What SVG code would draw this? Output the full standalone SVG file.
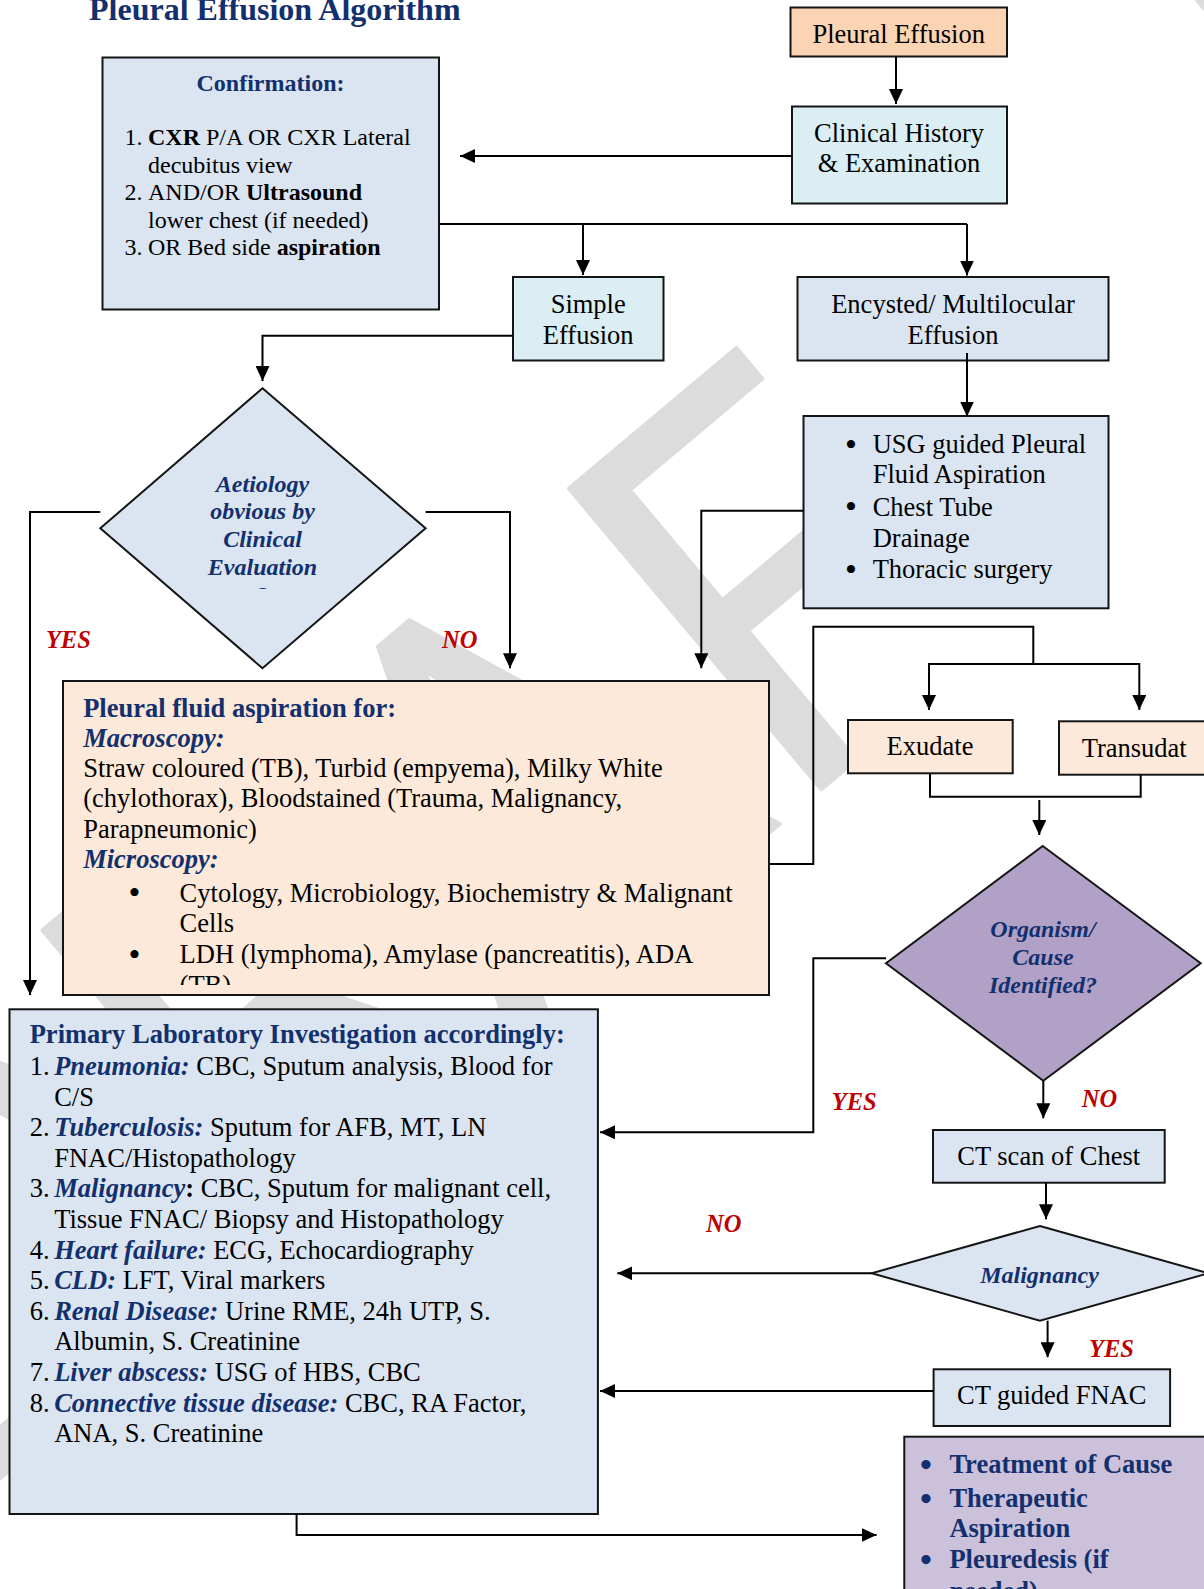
<svg xmlns="http://www.w3.org/2000/svg" width="1204" height="1589" viewBox="0 0 1204 1589">
<style>
.box{stroke:#151515;stroke-width:2}
.blue{fill:#dbe5f1}.cyan{fill:#daeef3}.peach{fill:#fbd4b4}.lpeach{fill:#fde9d9}.purple{fill:#b2a1c7}.lav{fill:#ccc1da}
text{font-family:"Liberation Serif","Times New Roman",serif;font-size:26.5px;fill:#000}
.c{text-anchor:middle}
.s24{font-size:24px}
.b{font-weight:bold}
.nv{fill:#13306e}
.bi{font-weight:bold;font-style:italic;fill:#13306e}
.red{font-weight:bold;font-style:italic;fill:#c00000;font-size:24.5px}
.bul{font-size:34px}
.ln{fill:none;stroke:#000;stroke-width:2}
.wm{font-family:"Open Sans",sans-serif;font-size:550px;fill:#dcdcdc;stroke:#dcdcdc;stroke-width:4;stroke-linejoin:round}
</style>
<defs>
<marker id="ah" viewBox="0 0 15 14" refX="15" refY="7" markerWidth="15" markerHeight="14" markerUnits="userSpaceOnUse" orient="auto">
<path d="M0,0 L15,7 L0,14 z" fill="#000"/>
</marker>
<clipPath id="clipD"><rect x="0" y="380" width="500" height="209"/></clipPath>
<clipPath id="clipP"><rect x="60" y="680" width="710" height="305"/></clipPath>
</defs>

<g id="watermark">
<text class="wm" transform="translate(-52,1522) rotate(-40)">DRAF<tspan dx="560">T</tspan></text>
</g>

<text class="b nv" x="89" y="20" style="font-size:32px">Pleural Effusion Algorithm</text>

<g id="pleural-effusion">
<rect class="box peach" x="790.5" y="7.5" width="216.5" height="49"/>
<text class="c" x="898.7" y="42.7">Pleural Effusion</text>
</g>

<g id="clinical-history">
<rect class="box cyan" x="792" y="106.5" width="215" height="97"/>
<text class="c" x="899" y="141.7">Clinical History</text>
<text class="c" x="899" y="171.7">&amp; Examination</text>
</g>

<g id="confirmation">
<rect class="box blue" x="102.5" y="57.5" width="336.5" height="252"/>
<text class="c s24 b nv" x="270.5" y="90.7">Confirmation:</text>
<text class="s24" x="124.4" y="145">1.</text>
<text class="s24" x="148" y="145"><tspan class="b">CXR</tspan> P/A OR CXR Lateral</text>
<text class="s24" x="148" y="172.5">decubitus view</text>
<text class="s24" x="124.4" y="200">2.</text>
<text class="s24" x="148" y="200">AND/OR <tspan class="b">Ultrasound</tspan></text>
<text class="s24" x="148" y="227.5">lower chest (if needed)</text>
<text class="s24" x="124.4" y="255">3.</text>
<text class="s24" x="148" y="255">OR Bed side <tspan class="b">aspiration</tspan></text>
</g>

<g id="simple-effusion">
<rect class="box cyan" x="513" y="277" width="150.5" height="83.5"/>
<text class="c" x="588.2" y="313">Simple</text>
<text class="c" x="588.2" y="343.5">Effusion</text>
</g>

<g id="encysted-effusion">
<rect class="box blue" x="797.5" y="277" width="311" height="83.5"/>
<text class="c" x="953" y="313">Encysted/ Multilocular</text>
<text class="c" x="953" y="343.5">Effusion</text>
</g>

<g id="aetiology-decision">
<polygon class="box blue" points="262.5,388.3 425.6,528.3 262.5,668.3 100.3,528.3"/>
<g clip-path="url(#clipD)">
<text class="c bi s24" x="262.5" y="491.7">Aetiology</text>
<text class="c bi s24" x="262.5" y="519.3">obvious by</text>
<text class="c bi s24" x="262.5" y="546.7">Clinical</text>
<text class="c bi s24" x="262.5" y="575">Evaluation</text>
<text class="c bi s24" x="262.5" y="602.5">?</text>
</g>
</g>

<g id="usg-management">
<rect class="box blue" x="803.5" y="416" width="305" height="192.3"/>
<text class="bul" x="845" y="455.5">•</text>
<text x="872.7" y="453.3">USG guided Pleural</text>
<text x="872.7" y="483.3">Fluid Aspiration</text>
<text class="bul" x="845" y="517.5">•</text>
<text x="872.7" y="515.5">Chest Tube</text>
<text x="872.7" y="546.5">Drainage</text>
<text class="bul" x="845" y="580.5">•</text>
<text x="872.7" y="578.3">Thoracic surgery</text>
</g>

<g id="pleural-fluid-aspiration">
<rect class="box lpeach" x="63" y="681" width="706" height="314"/>
<g clip-path="url(#clipP)">
<text class="b nv" x="83.2" y="716.7">Pleural fluid aspiration for:</text>
<text class="bi" x="83.2" y="747.3">Macroscopy:</text>
<text x="83.2" y="776.7">Straw coloured (TB), Turbid (empyema), Milky White</text>
<text x="83.2" y="807.3">(chylothorax), Bloodstained (Trauma, Malignancy,</text>
<text x="83.2" y="838.3">Parapneumonic)</text>
<text class="bi" x="83.2" y="868.3">Microscopy:</text>
<text class="bul" x="128.5" y="904">•</text>
<text x="179.6" y="901.7">Cytology, Microbiology, Biochemistry &amp; Malignant</text>
<text x="179.6" y="931.7">Cells</text>
<text class="bul" x="128.5" y="965.5">•</text>
<text x="179.6" y="963.3">LDH (lymphoma), Amylase (pancreatitis), ADA</text>
<text x="179.6" y="994">(TB)</text>
</g>
</g>

<g id="exudate">
<rect class="box lpeach" x="848" y="720" width="164.7" height="53.3"/>
<text class="c" x="930" y="755">Exudate</text>
</g>

<g id="transudate">
<rect class="box lpeach" x="1059" y="721.3" width="160" height="53.4"/>
<text x="1081.7" y="756.7">Transudat</text>
</g>

<g id="organism-decision">
<polygon class="box purple" points="1042.7,846 1200.7,963.3 1043.3,1080.7 886,963.3"/>
<text class="c bi s24" x="1043" y="937.3">Organism/</text>
<text class="c bi s24" x="1043" y="965">Cause</text>
<text class="c bi s24" x="1043" y="992.7">Identified?</text>
</g>

<g id="primary-investigation">
<rect class="box blue" x="9.5" y="1009.3" width="588.4" height="504.7"/>
<text class="b nv" x="29.7" y="1043.3">Primary Laboratory Investigation accordingly:</text>
<text x="29.7" y="1075">1.</text>
<text x="54.2" y="1075"><tspan class="bi">Pneumonia:</tspan> CBC, Sputum analysis, Blood for</text>
<text x="54.2" y="1105.6">C/S</text>
<text x="29.7" y="1136.2">2.</text>
<text x="54.2" y="1136.2"><tspan class="bi">Tuberculosis:</tspan> Sputum for AFB, MT, LN</text>
<text x="54.2" y="1166.8">FNAC/Histopathology</text>
<text x="29.7" y="1197.4">3.</text>
<text x="54.2" y="1197.4"><tspan class="bi">Malignancy</tspan><tspan class="b">:</tspan> CBC, Sputum for malignant cell,</text>
<text x="54.2" y="1228">Tissue FNAC/ Biopsy and Histopathology</text>
<text x="29.7" y="1258.6">4.</text>
<text x="54.2" y="1258.6"><tspan class="bi">Heart failure:</tspan> ECG, Echocardiography</text>
<text x="29.7" y="1289.2">5.</text>
<text x="54.2" y="1289.2"><tspan class="bi">CLD:</tspan> LFT, Viral markers</text>
<text x="29.7" y="1319.8">6.</text>
<text x="54.2" y="1319.8"><tspan class="bi">Renal Disease:</tspan> Urine RME, 24h UTP, S.</text>
<text x="54.2" y="1350.4">Albumin, S. Creatinine</text>
<text x="29.7" y="1381">7.</text>
<text x="54.2" y="1381"><tspan class="bi">Liver abscess:</tspan> USG of HBS, CBC</text>
<text x="29.7" y="1411.6">8.</text>
<text x="54.2" y="1411.6"><tspan class="bi">Connective tissue disease:</tspan> CBC, RA Factor,</text>
<text x="54.2" y="1442.2">ANA, S. Creatinine</text>
</g>

<g id="ct-scan">
<rect class="box blue" x="933" y="1130" width="231.7" height="52.7"/>
<text class="c" x="1048.7" y="1165">CT scan of Chest</text>
</g>

<g id="malignancy-decision">
<polygon class="box blue" points="1039.9,1226 1208.4,1273.3 1039.9,1320.7 871.6,1273.3"/>
<text class="c bi s24" x="1039.5" y="1283.3">Malignancy</text>
</g>

<g id="ct-fnac">
<rect class="box blue" x="933.6" y="1369.3" width="236.5" height="56.7"/>
<text class="c" x="1051.7" y="1404">CT guided FNAC</text>
</g>

<g id="treatment">
<rect class="box lav" x="904.3" y="1436.7" width="320" height="180"/>
<text class="b nv bul" x="920" y="1476">•</text>
<text class="b nv" x="949.4" y="1473.3">Treatment of Cause</text>
<text class="b nv bul" x="920" y="1509.5">•</text>
<text class="b nv" x="949.4" y="1506.7">Therapeutic</text>
<text class="b nv" x="949.4" y="1536.7">Aspiration</text>
<text class="b nv bul" x="920" y="1571">•</text>
<text class="b nv" x="949.4" y="1568.3">Pleuredesis (if</text>
<text class="b nv" x="949.4" y="1600">needed)</text>
</g>

<g id="labels">
<text class="red" x="45.9" y="648.3">YES</text>
<text class="red" x="442" y="648">NO</text>
<text class="red" x="831.7" y="1110">YES</text>
<text class="red" x="1081.7" y="1106.7">NO</text>
<text class="red" x="706" y="1231.7">NO</text>
<text class="red" x="1089" y="1356.7">YES</text>
</g>

<g id="connectors">
<path class="ln" marker-end="url(#ah)" d="M896,56.7 V104"/>
<path class="ln" marker-end="url(#ah)" d="M792,156 H460"/>
<path class="ln" d="M439,224 H967"/>
<path class="ln" marker-end="url(#ah)" d="M583,224 V275"/>
<path class="ln" marker-end="url(#ah)" d="M967,224 V275.5"/>
<path class="ln" marker-end="url(#ah)" d="M513,335.7 H262.5 V381"/>
<path class="ln" marker-end="url(#ah)" d="M967,353 V416.5"/>
<path class="ln" marker-end="url(#ah)" d="M100.3,512 H30 V995"/>
<path class="ln" marker-end="url(#ah)" d="M425.6,512 H510 V668.3"/>
<path class="ln" marker-end="url(#ah)" d="M803.5,510.7 H701.3 V668.3"/>
<path class="ln" d="M769,864 H813.3 V626.7 H1033.3 V664"/>
<path class="ln" d="M929,664 H1139.3"/>
<path class="ln" marker-end="url(#ah)" d="M929,663 V710"/>
<path class="ln" marker-end="url(#ah)" d="M1139.3,663 V710"/>
<path class="ln" d="M930,773.3 V796.7 H1140.7 V774.7"/>
<path class="ln" marker-end="url(#ah)" d="M1039.3,800 V835"/>
<path class="ln" marker-end="url(#ah)" d="M886,958.3 H813.3 V1132.3 H600"/>
<path class="ln" marker-end="url(#ah)" d="M1043.3,1080.7 V1118.3"/>
<path class="ln" marker-end="url(#ah)" d="M1046,1182.7 V1219.3"/>
<path class="ln" marker-end="url(#ah)" d="M871.6,1273.3 H617.3"/>
<path class="ln" marker-end="url(#ah)" d="M1047.6,1320.7 V1357.3"/>
<path class="ln" marker-end="url(#ah)" d="M933.6,1391 H600"/>
<path class="ln" marker-end="url(#ah)" d="M296.6,1514 V1535 H876.6"/>
</g>
</svg>
